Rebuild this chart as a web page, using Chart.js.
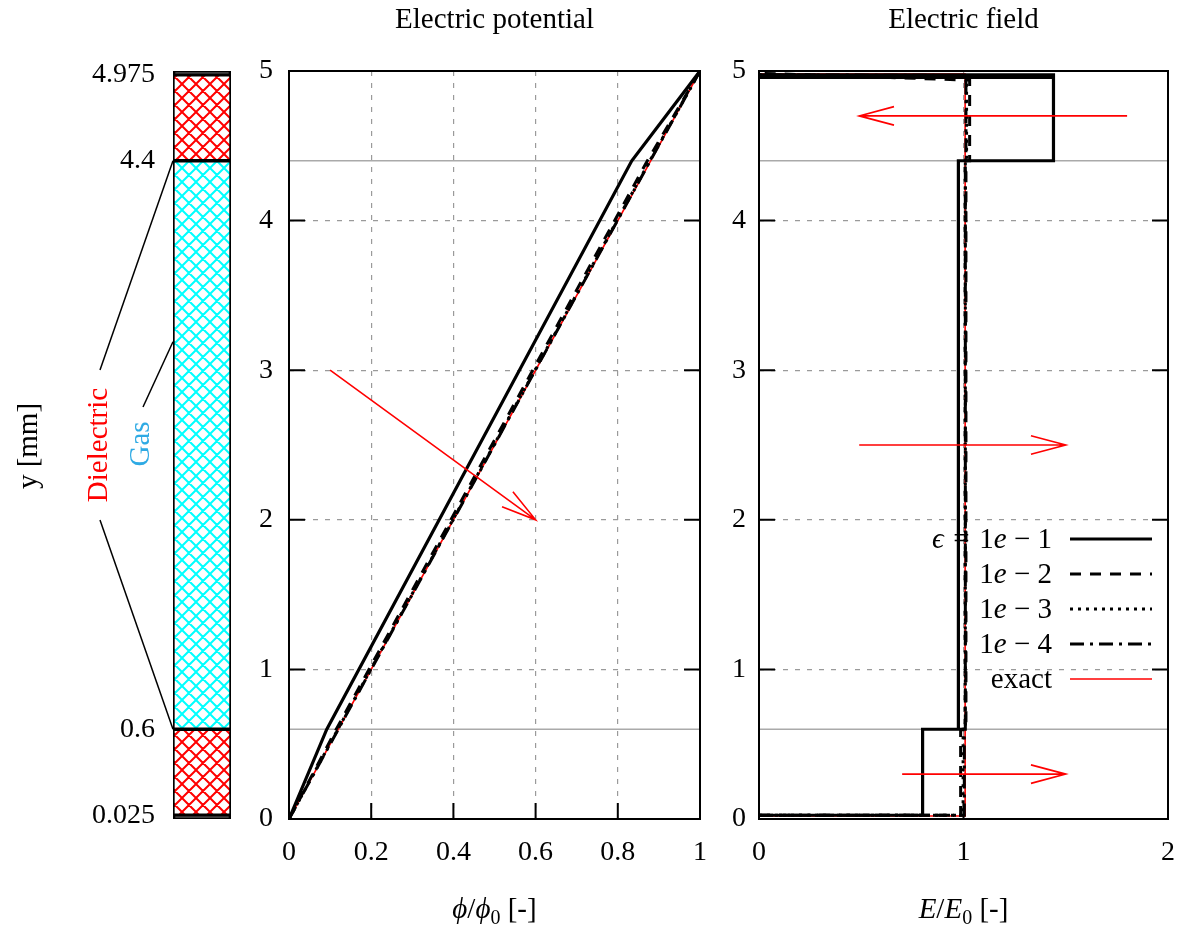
<!DOCTYPE html>
<html>
<head>
<meta charset="utf-8">
<script src="https://cdn.jsdelivr.net/npm/chart.js@4.4.1/dist/chart.umd.min.js"></script>
<style>
  body { margin: 0; background: #fff; width: 1183px; height: 929px; position: relative; overflow: hidden; }
  canvas { position: absolute; top: 0; }
</style>
</head>
<body>
<canvas id="strip" width="240" height="929" style="left:0px"></canvas>
<canvas id="pot" width="480" height="929" style="left:240px"></canvas>
<canvas id="field" width="463" height="929" style="left:720px"></canvas>
<script>
// ---- data ----
const stripTicks = [0.025, 0.6, 4.4, 4.975]
const layerFrom = [0, 0.025, 0.6, 4.4, 4.975]
const layerTo = [0.025, 0.6, 4.4, 4.975, 5]
const layerKind = ['electrode', 'dielectric', 'gas', 'dielectric', 'electrode']
const interfaces = [0.6, 4.4]
const gasPointerY = 3.19

const seriesLabels = ['1e-1', '1e-2', '1e-3', '1e-4', 'exact']

// potential phi/phi0 (x) against y
const potY = [0, 0.6, 4.4, 5]
const potE1 = [0, 0.092, 0.834, 1]
const potE2 = [0, 0.115, 0.872, 1]
const potE3 = [0, 0.119, 0.878, 1]
const potE4 = [0, 0.12, 0.879, 1]
const potExactX = [0, 1]
const potExactY = [0, 5]

// field E/E0 (x) against y
const fieldE1X = [0, 0.8, 0.8, 0.975, 0.975, 1.44, 1.44, 0, 0, 1.44]
const fieldE1Y = [0.025, 0.025, 0.6, 0.6, 4.4, 4.4, 4.975, 4.975, 4.958, 4.958]
const fieldE2X = [0, 0.986, 0.986, 1.012, 1.012, 1.03, 1.03, 1.01, 0]
const fieldE2Y = [0.025, 0.025, 0.6, 0.6, 4.4, 4.4, 4.94, 4.94, 4.985]
const fieldE3X = [0, 0.998, 0.998, 1.009, 1.009, 1.015, 1.015, 0]
const fieldE3Y = [0.025, 0.025, 0.6, 0.6, 4.4, 4.4, 4.96, 4.975]
const fieldE4X = [0, 1.004, 1.004, 1.009, 1.009, 1.012, 1.012, 0]
const fieldE4Y = [0.025, 0.025, 0.6, 0.6, 4.4, 4.4, 4.97, 4.975]
const fieldExactX = [0, 1.008, 1.008, 0]
const fieldExactY = [0.02, 0.02, 4.98, 4.98]

// red arrows (data coordinates)
const potArrowX = [0.1, 0.6]
const potArrowY = [3.0, 2.0]
const fieldArrowsX = [[1.8, 0.49], [0.49, 1.5], [0.7, 1.5]]
const fieldArrowsY = [[4.7, 4.7], [2.5, 2.5], [0.3, 0.3]]

// ---- helpers ----
const SERIF = '"Liberation Serif", "DejaVu Serif", serif'
const tickFont = { family: SERIF, size: 28 }
const TXT = 29

const zip = (xs, ys) => xs.map((x, i) => ({ x: x, y: ys[i] }))

const lineStyles = [
  { borderColor: '#000', borderWidth: 3.2, borderDash: [] },
  { borderColor: '#000', borderWidth: 3, borderDash: [11, 9] },
  { borderColor: '#000', borderWidth: 3, borderDash: [3, 5] },
  { borderColor: '#000', borderWidth: 3, borderDash: [14, 6, 3, 6] },
  { borderColor: '#ff0000', borderWidth: 1.6, borderDash: [] }
]

function makeSets(pairs) {
  return pairs.map((p, i) => Object.assign({
    label: seriesLabels[i],
    data: zip(p[0], p[1]),
    showLine: true,
    pointRadius: 0,
    fill: false
  }, lineStyles[i]))
}

function drawRuns(ctx, runs, x, y, align, size) {
  const fontFor = st => (st === 'i' ? 'italic ' : '') + (st === 'sub' ? Math.round(size * 0.7) : size) + 'px ' + SERIF
  let total = 0
  runs.forEach(r => { ctx.font = fontFor(r[1]); total += ctx.measureText(r[0]).width })
  let cx = align === 'right' ? x - total : align === 'center' ? x - total / 2 : x
  ctx.textAlign = 'left'
  ctx.textBaseline = 'alphabetic'
  runs.forEach(r => {
    ctx.font = fontFor(r[1])
    ctx.fillText(r[0], cx, r[1] === 'sub' ? y + size * 0.2 : y)
    cx += ctx.measureText(r[0]).width
  })
  return total
}

function arrow(ctx, x1, y1, x2, y2) {
  const ang = Math.atan2(y1 - y2, x1 - x2)
  const len = 36, spread = 0.26
  ctx.beginPath()
  ctx.moveTo(x1, y1); ctx.lineTo(x2, y2)
  ctx.moveTo(x2 + len * Math.cos(ang + spread), y2 + len * Math.sin(ang + spread))
  ctx.lineTo(x2, y2)
  ctx.lineTo(x2 + len * Math.cos(ang - spread), y2 + len * Math.sin(ang - spread))
  ctx.stroke()
}

const innerGrid = max => c => (c.tick && c.tick.value > 1e-9 && c.tick.value < max - 1e-9) ? '#9a9a9a' : 'rgba(0,0,0,0)'
const noPad = s => { s.paddingLeft = 0; s.paddingRight = 0; s.paddingTop = 0; s.paddingBottom = 0 }

// frame, inward ticks, interface lines, title, axis title
function framePlugin(title, xTitleRuns) {
  return {
    id: 'frame',
    beforeDatasetsDraw(chart) {
      const ctx = chart.ctx, a = chart.chartArea, ys = chart.scales.y
      ctx.save()
      ctx.strokeStyle = '#aaaaaa'
      ctx.lineWidth = 1.6
      interfaces.forEach(v => {
        const py = ys.getPixelForValue(v)
        ctx.beginPath(); ctx.moveTo(a.left, py); ctx.lineTo(a.right, py); ctx.stroke()
      })
      ctx.restore()
    },
    afterDatasetsDraw(chart) {
      const ctx = chart.ctx, a = chart.chartArea, xs = chart.scales.x, ys = chart.scales.y
      ctx.save()
      ctx.strokeStyle = '#000'
      ctx.lineWidth = 2
      ctx.strokeRect(a.left, a.top, a.right - a.left, a.bottom - a.top)
      const tl = 16
      ctx.beginPath()
      ys.ticks.forEach(t => {
        const py = ys.getPixelForValue(t.value)
        ctx.moveTo(a.left, py); ctx.lineTo(a.left + tl, py)
        ctx.moveTo(a.right, py); ctx.lineTo(a.right - tl, py)
      })
      xs.ticks.forEach(t => {
        const px = xs.getPixelForValue(t.value)
        ctx.moveTo(px, a.bottom); ctx.lineTo(px, a.bottom - tl)
      })
      ctx.stroke()
      ctx.fillStyle = '#000'
      const cx = (a.left + a.right) / 2
      drawRuns(ctx, [[title, '']], cx, 28, 'center', TXT)
      drawRuns(ctx, xTitleRuns, cx, 918, 'center', TXT)
      ctx.restore()
    }
  }
}

function plotOptions(xMax, xStep, yWidth, padRight, yPad) {
  return {
    responsive: false,
    animation: false,
    devicePixelRatio: 1,
    layout: { padding: { top: 71, right: padRight, left: 0, bottom: 0 } },
    plugins: { legend: { display: false }, tooltip: { enabled: false } },
    elements: { line: { tension: 0 } },
    scales: {
      x: {
        type: 'linear', min: 0, max: xMax,
        ticks: { stepSize: xStep, font: tickFont, color: '#000', padding: 17, maxRotation: 0, callback: v => String(+v.toFixed(1)) },
        grid: { color: innerGrid(xMax), lineWidth: 1.2, drawTicks: false },
        border: { display: false, dash: [5, 7] },
        afterFit: s => { s.height = 110; noPad(s) }
      },
      y: {
        type: 'linear', min: 0, max: 5,
        ticks: { stepSize: 1, font: tickFont, color: '#000', padding: yPad },
        grid: { color: innerGrid(5), lineWidth: 1.2, drawTicks: false },
        border: { display: false, dash: [5, 7] },
        afterFit: s => { s.width = yWidth; noPad(s) }
      }
    }
  }
}

// ---- left strip ----
function hatch(color) {
  const c = document.createElement('canvas')
  const n = 14
  c.width = n; c.height = n
  const g = c.getContext('2d')
  g.fillStyle = '#fff'; g.fillRect(0, 0, n, n)
  g.strokeStyle = color; g.lineWidth = 2
  g.beginPath()
  for (const d of [-n, 0, n]) {
    g.moveTo(d, 0); g.lineTo(d + n, n)
    g.moveTo(d + n, 0); g.lineTo(d, n)
  }
  g.stroke()
  return document.getElementById('strip').getContext('2d').createPattern(c, 'repeat')
}
const fills = { electrode: '#000', dielectric: hatch('#ff0000'), gas: hatch('#00ffff') }

const stripLabels = {
  id: 'stripLabels',
  afterDraw(chart) {
    const ctx = chart.ctx, a = chart.chartArea, ys = chart.scales.y
    ctx.save()
    ctx.strokeStyle = '#000'
    ctx.lineWidth = 1.5
    const seg = (x1, y1, x2, y2) => { ctx.beginPath(); ctx.moveTo(x1, y1); ctx.lineTo(x2, y2); ctx.stroke() }
    seg(a.left, ys.getPixelForValue(interfaces[1]), 100, 370)
    seg(a.left, ys.getPixelForValue(interfaces[0]), 100, 520)
    seg(a.left, ys.getPixelForValue(gasPointerY), 143, 407)
    const vtext = (t, x, y, col) => {
      ctx.save(); ctx.translate(x, y); ctx.rotate(-Math.PI / 2)
      ctx.fillStyle = col; ctx.font = TXT + 'px ' + SERIF
      ctx.textAlign = 'center'; ctx.textBaseline = 'middle'
      ctx.fillText(t, 0, 0); ctx.restore()
    }
    vtext('y [mm]', 29, 446, '#000')
    vtext('Dielectric', 99, 445, '#ff0000')
    vtext('Gas', 141, 444, '#2eaae4')
    ctx.restore()
  }
}

new Chart('strip', {
  type: 'bar',
  plugins: [stripLabels],
  data: {
    labels: [''],
    datasets: layerKind.map((k, i) => ({
      data: [[layerFrom[i], layerTo[i]]],
      backgroundColor: fills[k],
      borderColor: '#000',
      borderWidth: 2,
      borderSkipped: false,
      grouped: false,
      barPercentage: 1,
      categoryPercentage: 1
    }))
  },
  options: {
    responsive: false,
    animation: false,
    devicePixelRatio: 1,
    layout: { padding: { top: 71, right: 9, left: 0, bottom: 110 } },
    plugins: { legend: { display: false }, tooltip: { enabled: false } },
    scales: {
      x: { display: false },
      y: {
        type: 'linear', min: 0, max: 5,
        afterBuildTicks: s => { s.ticks = stripTicks.map(v => ({ value: v })) },
        ticks: { font: tickFont, color: '#000', padding: 18, callback: v => String(v) },
        grid: { display: false, drawTicks: false },
        border: { display: false },
        afterFit: s => { s.width = 173; noPad(s) }
      }
    }
  }
})

// ---- electric potential ----
const potArrowPlugin = {
  id: 'potArrow',
  afterDatasetsDraw(chart) {
    const ctx = chart.ctx, xs = chart.scales.x, ys = chart.scales.y
    ctx.save()
    ctx.strokeStyle = '#ff0000'; ctx.lineWidth = 1.6
    arrow(ctx, xs.getPixelForValue(potArrowX[0]), ys.getPixelForValue(potArrowY[0]),
      xs.getPixelForValue(potArrowX[1]), ys.getPixelForValue(potArrowY[1]))
    ctx.restore()
  }
}

new Chart('pot', {
  type: 'scatter',
  plugins: [framePlugin('Electric potential', [['ϕ', 'i'], ['/', ''], ['ϕ', 'i'], ['0', 'sub'], [' [-]', '']]), potArrowPlugin],
  data: {
    datasets: makeSets([
      [potE1, potY], [potE2, potY], [potE3, potY], [potE4, potY], [potExactX, potExactY]
    ])
  },
  options: plotOptions(1, 0.2, 49, 20, 16)
})

// ---- electric field ----
const fieldExtras = {
  id: 'fieldExtras',
  afterDatasetsDraw(chart) {
    const ctx = chart.ctx, a = chart.chartArea, xs = chart.scales.x, ys = chart.scales.y
    ctx.save()
    ctx.strokeStyle = '#ff0000'; ctx.lineWidth = 1.6
    fieldArrowsX.forEach((ax, i) => {
      const ay = fieldArrowsY[i]
      arrow(ctx, xs.getPixelForValue(ax[0]), ys.getPixelForValue(ay[0]),
        xs.getPixelForValue(ax[1]), ys.getPixelForValue(ay[1]))
    })
    // legend
    const textRight = a.right - 116
    const x1 = a.right - 98, x2 = a.right - 16
    chart.data.datasets.forEach((ds, i) => {
      const yc = a.top + 468 + i * 35
      ctx.fillStyle = '#000'
      const m = /^(\d)e-(\d)$/.exec(ds.label)
      if (m) {
        const w = drawRuns(ctx, [[m[1], ''], ['e', 'i'], [' − ', ''], [m[2], '']], textRight, yc + 9, 'right', TXT)
        if (i === 0) drawRuns(ctx, [['ϵ', 'i'], ['\u2004=\u2004', '']], textRight - w, yc + 9, 'right', TXT)
      } else {
        drawRuns(ctx, [[ds.label, '']], textRight, yc + 9, 'right', TXT)
      }
      ctx.strokeStyle = ds.borderColor
      ctx.lineWidth = ds.borderWidth
      ctx.setLineDash(ds.borderDash)
      ctx.beginPath(); ctx.moveTo(x1, yc); ctx.lineTo(x2, yc); ctx.stroke()
      ctx.setLineDash([])
    })
    ctx.restore()
  }
}

new Chart('field', {
  type: 'scatter',
  plugins: [framePlugin('Electric field', [['E', 'i'], ['/', ''], ['E', 'i'], ['0', 'sub'], [' [-]', '']]), fieldExtras],
  data: {
    datasets: makeSets([
      [fieldE1X, fieldE1Y], [fieldE2X, fieldE2Y], [fieldE3X, fieldE3Y], [fieldE4X, fieldE4Y], [fieldExactX, fieldExactY]
    ])
  },
  options: plotOptions(2, 1, 39, 15, 13)
})
</script>
</body>
</html>
